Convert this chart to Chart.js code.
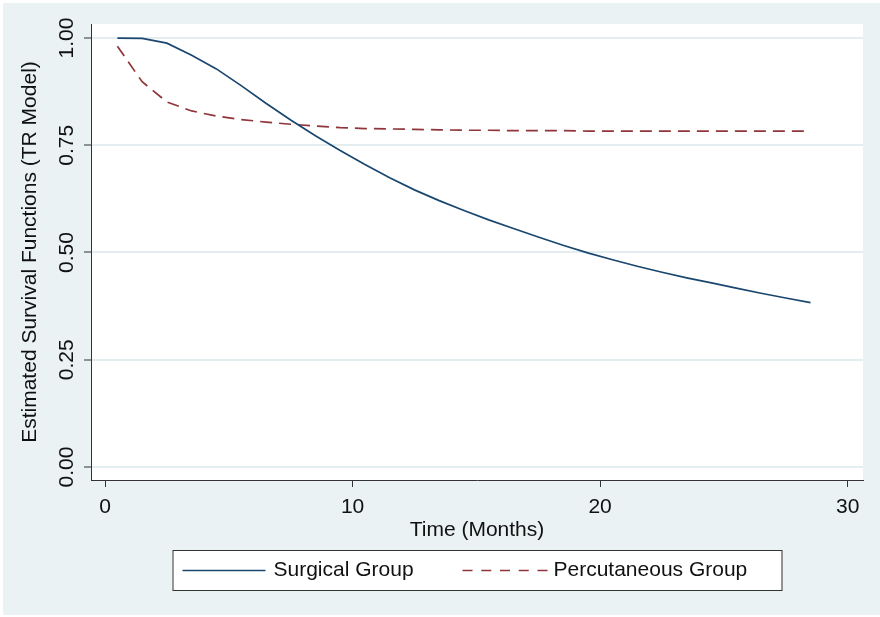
<!DOCTYPE html>
<html>
<head>
<meta charset="utf-8">
<script src="https://cdn.jsdelivr.net/npm/chart.js@4.4.1/dist/chart.umd.min.js"></script>
<style>
  body { margin: 0; background: #fff; }
  #wrap { width: 880px; height: 617px; }
</style>
</head>
<body>
<div id="wrap"><canvas id="myChart" width="880" height="617"></canvas></div>
<script>
// time points (months)
const months = [0.5, 1.5, 2.5, 3.5, 4.5, 5.5, 6.5, 7.5, 8.5, 9.5, 10.5, 11.5, 12.5, 13.5, 14.5,
    15.5, 16.5, 17.5, 18.5, 19.5, 20.5, 21.5, 22.5, 23.5, 24.5, 25.5, 26.5, 27.5, 28.5]

const surgical = [1.000, 0.999, 0.988, 0.960, 0.928, 0.889, 0.848, 0.809, 0.772, 0.738,
    0.705, 0.674, 0.646, 0.621, 0.598, 0.576, 0.556, 0.536, 0.517, 0.499,
    0.483, 0.468, 0.454, 0.441, 0.429, 0.417, 0.405, 0.394, 0.383]

const percutaneous = [0.981, 0.898, 0.851, 0.830, 0.818, 0.810, 0.804, 0.799, 0.795, 0.791,
    0.789, 0.788, 0.787, 0.786, 0.785, 0.785, 0.784, 0.784, 0.784, 0.783,
    0.783, 0.783, 0.783, 0.783, 0.783, 0.783, 0.783, 0.783, 0.783]

const xTicks = [0, 10, 20, 30]
const yTicks = [0, 0.25, 0.5, 0.75, 1]

const seriesNames = ['Surgical Group', 'Percutaneous Group']

const navy = '#1a476f'
const maroon = '#90353b'
const fontFam = '"Liberation Sans", Arial, Helvetica, sans-serif'

const toPoints = (vals) => months.map((m, i) => ({ x: m, y: vals[i] }))

const backdrop = {
    id: 'backdrop',
    beforeDraw: (chart) => {
        const c = chart.ctx
        const a = chart.chartArea
        c.save()
        c.fillStyle = '#ffffff'
        c.fillRect(0, 0, chart.width, chart.height)
        c.fillStyle = '#eaf2f3'
        c.fillRect(3, 3, chart.width - 3, chart.height - 5)
        c.fillStyle = '#ffffff'
        c.fillRect(a.left, a.top, a.right - a.left, a.bottom - a.top)
        c.restore()
    }
}

// stata style legend box under the x title
const boxLegend = {
    id: 'boxLegend',
    afterDraw: (chart) => {
        const c = chart.ctx
        const a = chart.chartArea
        const mid = (a.left + a.right) / 2
        const left = mid - 304.5
        const top = a.bottom + 70
        c.save()
        c.fillStyle = '#ffffff'
        c.fillRect(left, top, 609, 40)
        c.strokeStyle = '#333333'
        c.lineWidth = 1
        c.strokeRect(left + 0.5, top + 0.5, 609, 40)

        const ly = top + 20.5
        c.font = '21px ' + fontFam
        c.fillStyle = '#111111'
        c.textBaseline = 'alphabetic'

        c.beginPath()
        c.strokeStyle = navy
        c.lineWidth = 1.7
        c.moveTo(left + 10, ly)
        c.lineTo(left + 93, ly)
        c.stroke()
        c.fillText(seriesNames[0], left + 101, top + 26)

        c.beginPath()
        c.strokeStyle = maroon
        c.setLineDash([10, 8.75])
        c.moveTo(left + 290, ly)
        c.lineTo(left + 375, ly)
        c.stroke()
        c.setLineDash([])
        c.fillText(seriesNames[1], left + 381, top + 26)
        c.restore()
    }
}

const ctx = document.getElementById('myChart')

const myChart = new Chart(ctx, {
    type: 'line',
    data: {
        datasets: [
            {
                label: seriesNames[0],
                data: toPoints(surgical),
                borderColor: navy,
                borderWidth: 1.7,
                pointRadius: 0,
                tension: 0,
                fill: false
            },
            {
                label: seriesNames[1],
                data: toPoints(percutaneous),
                borderColor: maroon,
                borderWidth: 1.7,
                borderDash: [12, 7],
                pointRadius: 0,
                tension: 0,
                fill: false
            }
        ]
    },
    options: {
        responsive: false,
        animation: false,
        layout: { padding: { left: 0, top: 24, right: 17, bottom: 0 } },
        plugins: {
            legend: { display: false },
            tooltip: { enabled: false }
        },
        scales: {
            x: {
                type: 'linear',
                min: -0.566,
                max: 30.62,
                afterBuildTicks: (s) => { s.ticks = xTicks.map(v => ({ value: v })) },
                afterFit: (s) => { s.height = 137 },
                grid: { drawOnChartArea: false, drawTicks: true, tickLength: 7, tickColor: '#333333', tickWidth: 1 },
                border: { color: '#333333', width: 1 },
                ticks: {
                    color: '#111111',
                    font: { family: fontFam, size: 21 },
                    padding: 8,
                    maxRotation: 0,
                    callback: (v) => v
                },
                title: {
                    display: true,
                    text: 'Time (Months)',
                    color: '#111111',
                    font: { family: fontFam, size: 21 },
                    padding: { top: 0, bottom: 74 }
                }
            },
            y: {
                type: 'linear',
                min: -0.0304,
                max: 1.0327,
                afterBuildTicks: (s) => { s.ticks = yTicks.map(v => ({ value: v })) },
                afterFit: (s) => { s.width = 91 },
                grid: { color: '#e4eef0', lineWidth: 2, drawTicks: true, tickLength: 7, tickColor: '#333333', tickWidth: 1 },
                border: { color: '#333333', width: 1 },
                ticks: {
                    color: '#111111',
                    font: { family: fontFam, size: 21 },
                    minRotation: 90,
                    maxRotation: 90,
                    crossAlign: 'center',
                    padding: -4,
                    callback: (v) => Number(v).toFixed(2)
                },
                title: {
                    display: true,
                    text: 'Estimated Survival Functions (TR Model)',
                    color: '#111111',
                    font: { family: fontFam, size: 21 },
                    padding: { top: 18, bottom: 0 }
                }
            }
        }
    },
    plugins: [backdrop, boxLegend]
})
</script>
</body>
</html>
